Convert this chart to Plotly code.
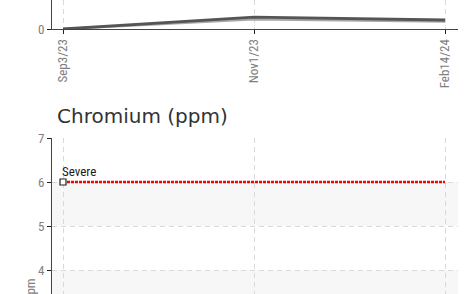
import plotly.graph_objects as go

W, H = 466, 294

categories = ["Sep3/23", "Nov1/23", "Feb14/24"]
top_upper = [0, 4.1, 3.1]
top_lower = [0, 3.4, 2.6]
severe_limit = [6, 6, 6]
severe_label = "Severe"
chart_title = "Chromium (ppm)"
y_title = "ppm"

TICKFONT = dict(family="Liberation Sans Narrow, Roboto Condensed, Arial Narrow, Liberation Sans, sans-serif",
                size=13, color="#808080")

def py(pixel):
    return 1 - pixel / H

x_dom = [52 / W, 458 / W]
xrange_ = [-11 / 191, 2 + 13 / 191]

fig = go.Figure()

# top chart
fig.add_trace(go.Scatter(x=categories, y=top_lower, mode="lines",
                         line=dict(color="#a8a8a8", width=2.5), xaxis="x", yaxis="y",
                         showlegend=False, hoverinfo="skip"))
fig.add_trace(go.Scatter(x=categories, y=top_upper, mode="lines",
                         line=dict(color="#555555", width=2.8), xaxis="x", yaxis="y",
                         showlegend=False))

# bottom chart
fig.add_trace(go.Scatter(x=categories, y=severe_limit, mode="lines",
                         line=dict(color="#ff0000", width=2.5, dash="3px,1px"),
                         xaxis="x2", yaxis="y2", showlegend=False))
fig.add_trace(go.Scatter(x=categories[:1], y=severe_limit[:1], mode="markers",
                         marker=dict(symbol="square", size=6, color="white",
                                     line=dict(color="#222", width=1.2)),
                         xaxis="x2", yaxis="y2", showlegend=False))

grid = dict(showgrid=True, gridcolor="#d9d9d9", gridwidth=1, griddash="5px,4px")

fig.update_layout(
    width=W, height=H,
    margin=dict(l=0, r=0, t=0, b=0, pad=0, autoexpand=False),
    paper_bgcolor="white", plot_bgcolor="white",
    xaxis=dict(domain=x_dom, anchor="y", type="category", range=xrange_, automargin=False,
               showline=True, linecolor="#444", linewidth=1,
               ticks="outside", ticklen=4, tickcolor="#222",
               tickangle=-90, tickfont=TICKFONT, zeroline=False, **grid),
    yaxis=dict(domain=[py(29), 1], anchor="x", range=[0, 10], tickvals=[0], automargin=False,
               showline=True, linecolor="#444", linewidth=1,
               ticks="outside", ticklen=4, tickcolor="#222",
               tickfont=TICKFONT, showgrid=False, zeroline=False),
    xaxis2=dict(domain=x_dom, anchor="y2", type="category", range=xrange_, automargin=False,
                showline=False, showticklabels=False, zeroline=False, **grid),
    yaxis2=dict(domain=[0, py(138)], anchor="x2", range=[3.455, 7], automargin=False,
                tickvals=[4, 5, 6, 7],
                showline=True, linecolor="#444", linewidth=1,
                ticks="outside", ticklen=4, tickcolor="#222",
                tickfont=TICKFONT, zeroline=False, **grid),
    annotations=[
        dict(text=chart_title, xref="paper", yref="paper", x=55 / W, y=py(130),
             xanchor="left", yanchor="bottom", showarrow=False,
             font=dict(family="DejaVu Sans, Verdana, sans-serif", size=20, color="#333")),
        dict(text=severe_label, xref="x2", yref="y2", x=categories[0], y=severe_limit[0],
             xanchor="left", yanchor="bottom", xshift=-3, yshift=1, showarrow=False,
             font=dict(family=TICKFONT["family"], size=13, color="#1a1a1a")),
        dict(text=y_title, xref="paper", yref="paper", x=30 / W, y=py(290),
             xanchor="center", yanchor="middle", textangle=-90, showarrow=False,
             font=dict(family=TICKFONT["family"], size=13, color="#808080")),
    ],
    shapes=[
        dict(type="rect", xref="x2 domain", yref="y2", x0=0, x1=1, y0=5, y1=6,
             fillcolor="#f7f7f7", line=dict(width=0), layer="below"),
        dict(type="rect", xref="x2 domain", yref="y2", x0=0, x1=1, y0=3, y1=4,
             fillcolor="#f7f7f7", line=dict(width=0), layer="below"),
    ],
)

fig.write_html("out.html", config={"displayModeBar": False},
               post_script="document.body.style.margin='0';document.body.style.overflow='hidden';")
